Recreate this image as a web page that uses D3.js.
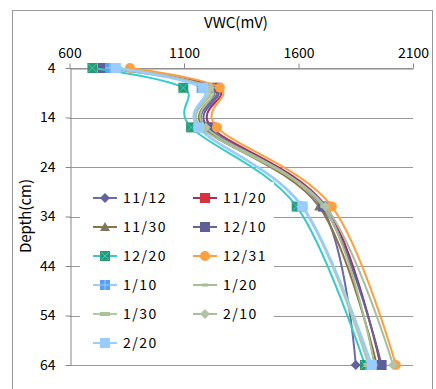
<!DOCTYPE html>
<html>
<head>
<meta charset="utf-8">
<script src="https://cdn.jsdelivr.net/npm/d3@7"></script>
<style>
  body { margin: 0; background: #fff; }
  text { font-family: "Noto Sans CJK JP", "Noto Sans", sans-serif; fill: #000; }
</style>
</head>
<body>
<div id="chart"></div>
<script>
// depths (cm) and VWC readings (mV) per survey date
const depths = [4, 8, 16, 32, 64];
const dates = ["11/12", "11/20", "11/30", "12/10", "12/20", "12/31", "1/10", "1/20", "1/30", "2/10", "2/20"];
const v1112 = [772, 1228, 1194, 1700, 1850];
const v1120 = [782, 1245, 1220, 1720, 1958];
const v1130 = [778, 1218, 1185, 1690, 1942];
const v1210 = [745, 1233, 1205, 1707, 1963];
const v1220 = [700, 1097, 1131, 1592, 1890];
const v1231 = [864, 1257, 1244, 1746, 2025];
const v0110 = [777, 1177, 1161, 1614, 1912];
const v0120 = [792, 1204, 1175, 1708, 1932];
const v0130 = [803, 1194, 1164, 1618, 1906];
const v0210 = [812, 1214, 1195, 1718, 2013];
const v0220 = [803, 1184, 1164, 1618, 1920];
const xTicks = [600, 1100, 1600, 2100];
const yTicks = [4, 14, 24, 34, 44, 54, 64];

const values = [v1112, v1120, v1130, v1210, v1220, v1231, v0110, v0120, v0130, v0210, v0220];

// line colour, marker type, marker fill
const styles = [
  {line: "#6b6ba8", mark: "diamond", fill: "#62629e"},
  {line: "#a3305e", mark: "square", fill: "#d8323e"},
  {line: "#8c7444", mark: "triangle", fill: "#7f765e"},
  {line: "#64649e", mark: "square", fill: "#5f5f98"},
  {line: "#33cccc", mark: "xsquare", fill: "#2a9a70"},
  {line: "#ffa040", mark: "circle", fill: "#ffa040"},
  {line: "#99ccff", mark: "plussquare", fill: "#5aa0f0"},
  {line: "#a6bf94", mark: "dash", fill: "#a6bf94"},
  {line: "#b3c9a3", mark: "longdash", fill: "#aac39a"},
  {line: "#a7bf9c", mark: "diamond", fill: "#b3c3a8"},
  {line: "#99ccff", mark: "square", fill: "#99ccff"}
];

const W = 436, H = 389;
const svg = d3.select("#chart").append("svg")
  .attr("width", W).attr("height", H);

// outer chart border
svg.append("rect")
  .attr("x", 12.5).attr("y", 10.5)
  .attr("width", 420).attr("height", 385)
  .attr("fill", "#fff").attr("stroke", "#999");

const x = d3.scaleLinear().domain([600, 2100]).range([69.5, 413]);
const y = d3.scaleLinear().domain([4, 64]).range([68, 365]);

// horizontal gridlines
svg.append("g")
  .selectAll("line")
  .data(yTicks)
  .join("line")
  .attr("x1", x(600)).attr("x2", x(2100))
  .attr("y1", d => Math.round(y(d)) + 0.5).attr("y2", d => Math.round(y(d)) + 0.5)
  .attr("stroke", "#999");

// top axis
const xAxis = svg.append("g")
  .attr("transform", `translate(0, ${Math.round(y(4)) + 0.5})`)
  .call(d3.axisTop(x).tickValues(xTicks).tickFormat(d3.format("d")).tickSize(5).tickSizeOuter(0).tickPadding(6));
xAxis.selectAll("text").attr("font-size", 14).style("font-family", "'Noto Sans CJK JP', sans-serif");
xAxis.selectAll("line,path").attr("stroke", "#888");

// left axis
const yAxis = svg.append("g")
  .attr("transform", `translate(${Math.round(x(600)) + 0.5}, 0)`)
  .call(d3.axisLeft(y).tickValues(yTicks).tickSize(5).tickSizeOuter(0).tickPadding(10));
yAxis.selectAll("text").attr("font-size", 14).style("font-family", "'Noto Sans CJK JP', sans-serif");
yAxis.selectAll("line,path").attr("stroke", "#888");

svg.append("text")
  .attr("x", 236).attr("y", 28)
  .attr("text-anchor", "middle")
  .attr("font-size", 15)
  .text("VWC(mV)");

svg.append("text")
  .attr("transform", "translate(31, 216) rotate(-90)")
  .attr("text-anchor", "middle")
  .attr("font-size", 15)
  .text("Depth(cm)");

const line = d3.line()
  .x(d => x(d[0]))
  .y(d => y(d[1]))
  .curve(d3.curveCatmullRom.alpha(0));

function drawMarker(g, type, fill, cx, cy) {
  if (type === "diamond") {
    g.append("path").attr("d", `M${cx},${cy-5}L${cx+5},${cy}L${cx},${cy+5}L${cx-5},${cy}Z`).attr("fill", fill);
  } else if (type === "square" || type === "xsquare" || type === "plussquare") {
    g.append("rect").attr("x", cx - 5).attr("y", cy - 5).attr("width", 10).attr("height", 10).attr("fill", fill);
    if (type === "xsquare") {
      g.append("path").attr("d", `M${cx-4},${cy-4}L${cx+4},${cy+4}M${cx+4},${cy-4}L${cx-4},${cy+4}`)
        .attr("stroke", "#33cccc").attr("stroke-width", 1);
    }
    if (type === "plussquare") {
      g.append("path").attr("d", `M${cx},${cy-5}L${cx},${cy+5}M${cx-5},${cy}L${cx+5},${cy}`)
        .attr("stroke", "#99ccff").attr("stroke-width", 1);
    }
  } else if (type === "triangle") {
    g.append("path").attr("d", `M${cx},${cy-5}L${cx+5},${cy+4}L${cx-5},${cy+4}Z`).attr("fill", fill);
  } else if (type === "circle") {
    g.append("circle").attr("cx", cx).attr("cy", cy).attr("r", 5).attr("fill", fill);
  } else if (type === "dash") {
    g.append("rect").attr("x", cx - 3).attr("y", cy - 1.5).attr("width", 6).attr("height", 3).attr("fill", fill);
  } else if (type === "longdash") {
    g.append("rect").attr("x", cx - 5).attr("y", cy - 2).attr("width", 10).attr("height", 4).attr("fill", fill);
  }
}

// series lines and markers
values.forEach(function(vals, i) {
  const pts = vals.map((v, j) => [v, depths[j]]);
  const g = svg.append("g");
  g.append("path")
    .attr("d", line(pts))
    .attr("fill", "none")
    .attr("stroke", styles[i].line)
    .attr("stroke-width", 2);
  pts.forEach(p => drawMarker(g, styles[i].mark, styles[i].fill, x(p[0]), y(p[1])));
});

// legend
const legend = svg.append("g");
legend.append("rect")
  .attr("x", 80).attr("y", 182)
  .attr("width", 194).attr("height", 176)
  .attr("fill", "#fff");

dates.forEach(function(d, i) {
  const col = i % 2, row = Math.floor(i / 2);
  const lx = 93 + col * 100, ly = 198 + row * 29;
  legend.append("line")
    .attr("x1", lx).attr("x2", lx + 24)
    .attr("y1", ly).attr("y2", ly)
    .attr("stroke", styles[i].line).attr("stroke-width", 2);
  drawMarker(legend, styles[i].mark, styles[i].fill, lx + 12, ly);
  legend.append("text")
    .attr("x", lx + 30).attr("y", ly + 5)
    .attr("font-size", 14)
    .attr("letter-spacing", 1.5)
    .text(d);
});
</script>
</body>
</html>
